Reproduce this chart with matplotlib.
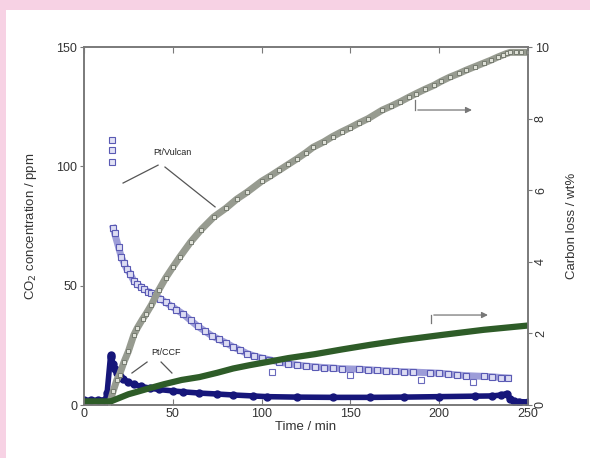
import matplotlib.pyplot as plt
from matplotlib.patches import Rectangle

# CO2 concentration, Pt/Vulcan (open squares)
vulcan_peak_t = [15.6, 15.8, 16.0]
vulcan_peak_ppm = [111, 107, 102]
vulcan_t = [16.5, 17.2, 19.5, 21, 22.5, 24, 26, 28, 30, 32, 34, 36, 38, 40, 43, 46, 49,
            52, 56, 60, 64, 68, 72, 76, 80, 84, 88, 92, 96, 100, 104, 110, 115, 120,
            125, 130, 135, 140, 145, 155, 160, 165, 170, 175, 180, 185, 195, 200, 205,
            210, 215, 225, 230, 235, 239]
vulcan_ppm = [74, 72, 66, 62, 59.5, 57, 55, 52, 50.5, 49.5, 48.5, 47.5, 47, 46, 44.5, 43,
              41.5, 40, 38, 35.5, 33, 31, 29, 27.5, 26, 24.3, 23, 21.5, 20.5, 19.7, 19,
              18, 17.3, 16.8, 16.3, 16, 15.7, 15.5, 15.2, 15, 14.8, 14.5, 14.3, 14.1, 13.9,
              13.8, 13.5, 13.3, 13, 12.6, 12.3, 12, 11.8, 11.5, 11.3]
vulcan_dip_t = [106, 150, 190, 219]
vulcan_dip_ppm = [13.8, 12.6, 10.5, 9.6]

# CO2 concentration, Pt/CCF (filled circles)
ccf_t = [0, 4, 8, 12, 13, 15, 15.3, 16.5, 17.5, 18.5, 20, 22, 25, 28, 32, 37, 42, 50, 56,
         65, 75, 84, 95, 103, 120, 140, 161, 180, 200, 220, 230, 235, 238, 240, 242, 245, 250]
ccf_ppm = [2, 2, 2, 2.2, 5, 21, 20, 17, 15, 13.4, 12, 10.8, 9.6, 8.6, 7.8, 7.1, 6.5, 5.9,
           5.5, 5, 4.6, 4.2, 3.8, 3.5, 3.3, 3.2, 3.2, 3.3, 3.5, 3.7, 3.8, 4.2, 4.8, 2.5,
           1.6, 1.4, 1.3]

# carbon loss, Pt/Vulcan (grey squares) and Pt/CCF (green line)
loss_vulcan_t = [14, 15, 16.5, 18.5, 20, 22.5, 25, 28, 30, 33, 35, 38, 42, 46, 50, 54, 60,
                 66, 73, 80, 86, 92, 100, 105, 110, 115, 120, 125, 129, 135, 140, 145, 150,
                 155, 160, 168, 173, 178, 183, 187, 192, 197, 201, 206, 211, 215, 220, 225,
                 229, 233, 236, 238, 240, 243, 246, 250]
loss_vulcan = [0, 0.14, 0.4, 0.7, 0.85, 1.2, 1.5, 1.95, 2.15, 2.4, 2.55, 2.8, 3.2, 3.55,
               3.85, 4.14, 4.55, 4.9, 5.25, 5.5, 5.75, 5.95, 6.25, 6.4, 6.56, 6.72, 6.88,
               7.05, 7.2, 7.35, 7.5, 7.63, 7.75, 7.88, 8.0, 8.24, 8.35, 8.47, 8.6, 8.7, 8.82,
               8.93, 9.04, 9.16, 9.26, 9.35, 9.45, 9.55, 9.63, 9.72, 9.78, 9.82, 9.85, 9.85,
               9.85, 9.85]
loss_ccf_t = [0, 5, 10, 14, 15, 20, 25, 30, 37, 45, 55, 65, 75, 84, 93, 103, 115, 130,
              145, 161, 180, 202, 225, 250]
loss_ccf = [0.1, 0.1, 0.1, 0.1, 0.1, 0.2, 0.3, 0.37, 0.47, 0.58, 0.7, 0.78, 0.9, 1.02,
            1.11, 1.2, 1.31, 1.42, 1.55, 1.68, 1.82, 1.96, 2.1, 2.22]

xticks = [0, 50, 100, 150, 200, 250]
yticks_left = [0, 50, 100, 150]
yticks_right = [0, 2, 4, 6, 8, 10]

plt.rcParams['font.family'] = ['Liberation Sans', 'DejaVu Sans']
txt = '#333333'
spine = '#7a7a7a'

fig = plt.figure(figsize=(5.9, 4.58), dpi=100, facecolor='#f7d2e4')
fig.patches.append(Rectangle((6 / 590, 0), 1, 1 - 10 / 458, transform=fig.transFigure,
                             facecolor='white', edgecolor='none', zorder=-10))

ax = fig.add_axes([84 / 590, 1 - 405 / 458, 444 / 590, 358 / 458])
ax.set_facecolor('none')
ax2 = ax.twinx()

# left axis series
ax.plot(vulcan_t, vulcan_ppm, '-', color='#9d9dd8', lw=5, zorder=2)
ax.plot(vulcan_t, vulcan_ppm, 's', ms=5, mfc='#dcdcf3', mec='#5a5ab4', mew=0.8, zorder=3)
ax.plot(vulcan_peak_t, vulcan_peak_ppm, 's', ms=4, mfc='#e2e2f5', mec='#5a5ab4', mew=0.8)
ax.plot(vulcan_dip_t, vulcan_dip_ppm, 's', ms=4, mfc='white', mec='#6a6abc', mew=0.8)
ax.plot(ccf_t, ccf_ppm, '-o', color='#16167a', lw=4, ms=5, zorder=4)

# right axis series
ax2.plot(loss_vulcan_t, loss_vulcan, '-', color='#979b90', lw=5)
ax2.plot(loss_vulcan_t, loss_vulcan, 's', ms=3.5, mfc='#dfe1d8', mec='#767b70', mew=0.7)
ax2.plot(loss_ccf_t, loss_ccf, '-', color='#2e5c28', lw=4.5, solid_capstyle='butt')

ax.set_xlim(0, 250)
ax.set_ylim(0, 150)
ax2.set_ylim(0, 10)
ax.set_xticks(xticks)
ax.set_yticks(yticks_left)
ax2.set_yticks(yticks_right)
ax2.set_yticklabels([str(v) for v in yticks_right])
for lab in ax2.get_yticklabels()[:-1]:
    lab.set_rotation(90)
    lab.set_va('center')

ax.tick_params(axis='x', direction='in', top=True, length=4, color=spine,
               labelsize=9, labelcolor=txt, pad=2)
ax.tick_params(axis='y', direction='out', length=3, color=spine,
               labelsize=9, labelcolor=txt, pad=2)
ax2.tick_params(axis='y', direction='out', length=3, color=spine,
                labelsize=9, labelcolor=txt, pad=2)
for a in (ax, ax2):
    for s in a.spines.values():
        s.set_color(spine)
        s.set_linewidth(1.2)

ax.set_xlabel('Time / min', fontsize=9.5, color=txt, labelpad=1)
ax.set_ylabel('CO$_2$ concentration / ppm', fontsize=9.5, color=txt, labelpad=12)
ax2.set_ylabel('Carbon loss / wt%', fontsize=9.5, color=txt, labelpad=12, rotation=90)

# labels with pointer lines
ax.text(49.5, 105.6, 'Pt/Vulcan', fontsize=6.5, ha='center', va='center', color='#222222')
ax.plot([41.7, 22], [100.5, 93], color='#555555', lw=0.9)
ax.plot([45.6, 73.8], [99.7, 83], color='#555555', lw=0.9)
ax.text(46, 22.2, 'Pt/CCF', fontsize=6.5, ha='center', va='center', color='#222222')
ax.plot([35.5, 27], [18, 13.4], color='#555555', lw=0.9)
ax.plot([43.4, 49.5], [18, 13.4], color='#555555', lw=0.9)

# arrows pointing to the right axis
ax.plot([186.4, 186.4], [127.8, 123.6], color='#777777', lw=0.9)
ax.annotate('', xy=(220, 123.6), xytext=(186.4, 123.6),
            arrowprops=dict(arrowstyle='-|>', color='#777777', lw=0.9, mutation_scale=9))
ax.plot([195.4, 195.4], [34.4, 37.7], color='#777777', lw=0.9)
ax.annotate('', xy=(229, 37.7), xytext=(195.4, 37.7),
            arrowprops=dict(arrowstyle='-|>', color='#777777', lw=0.9, mutation_scale=9))

fig.savefig('out.png', dpi=100, facecolor=fig.get_facecolor())
